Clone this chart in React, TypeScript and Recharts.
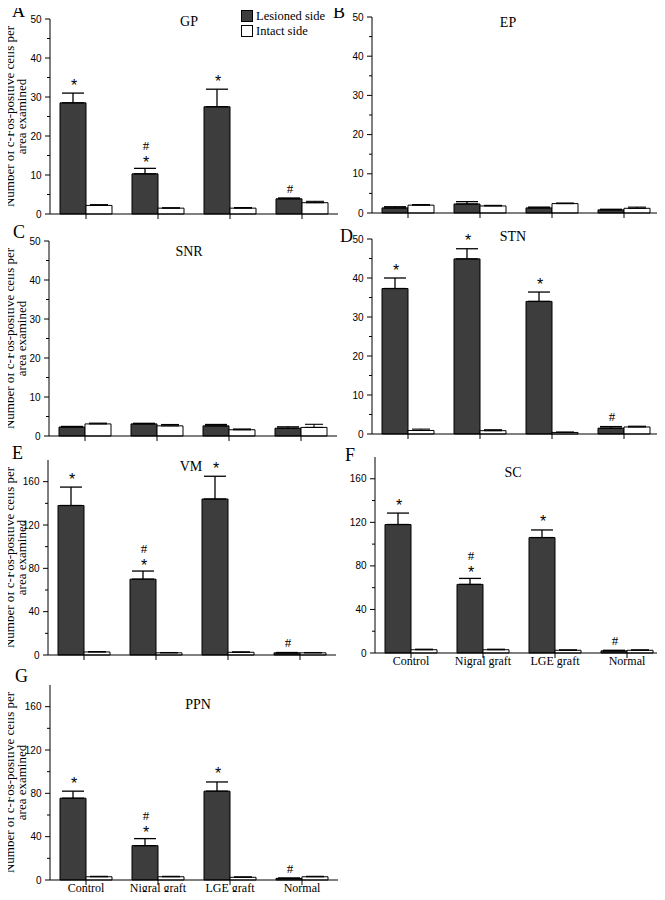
import React from 'react';
import { BarChart, Bar, XAxis, YAxis, ErrorBar, LabelList, Legend } from 'recharts';

const CATEGORIES = ['Control', 'Nigral graft', 'LGE graft', 'Normal'];
const LEGEND_ITEMS = ['Lesioned side', 'Intact side'];
const Y_LABEL_LINES = ['Number of c-Fos-positive cells per', 'area examined'];
const TICKS_50 = [0, 5, 10, 15, 20, 25, 30, 35, 40, 45, 50];
const TICKS_180 = [0, 20, 40, 60, 80, 100, 120, 140, 160];

// GP
const GP_LESIONED = [28.5, 10.3, 27.5, 3.9];
const GP_LESIONED_SEM = [2.5, 1.4, 4.5, 0.2];
const GP_INTACT = [2.2, 1.5, 1.5, 2.9];
const GP_INTACT_SEM = [0.2, 0.1, 0.15, 0.35];
const GP_MARKS = ['*', '#*', '*', '#'];
// EP
const EP_LESIONED = [1.3, 2.3, 1.3, 0.8];
const EP_LESIONED_SEM = [0.3, 0.6, 0.2, 0.15];
const EP_INTACT = [2.0, 1.8, 2.4, 1.2];
const EP_INTACT_SEM = [0.15, 0.15, 0.15, 0.3];
const EP_MARKS = ['', '', '', ''];
// SNR
const SNR_LESIONED = [2.3, 3.1, 2.6, 2.0];
const SNR_LESIONED_SEM = [0.15, 0.15, 0.35, 0.35];
const SNR_INTACT = [3.1, 2.6, 1.6, 2.2];
const SNR_INTACT_SEM = [0.2, 0.35, 0.2, 0.8];
const SNR_MARKS = ['', '', '', ''];
// STN
const STN_LESIONED = [37.3, 44.9, 34.0, 1.5];
const STN_LESIONED_SEM = [2.7, 2.6, 2.4, 0.4];
const STN_INTACT = [0.9, 0.85, 0.4, 1.8];
const STN_INTACT_SEM = [0.35, 0.25, 0.1, 0.2];
const STN_MARKS = ['*', '*', '*', '#'];
// VM
const VM_LESIONED = [138, 70, 144, 2];
const VM_LESIONED_SEM = [17, 7.5, 21, 0.3];
const VM_INTACT = [2.8, 2, 2.5, 2];
const VM_INTACT_SEM = [0.4, 0.3, 0.4, 0.3];
const VM_MARKS = ['*', '#*', '*', '#'];
// SC
const SC_LESIONED = [118, 63, 106, 2];
const SC_LESIONED_SEM = [10.5, 5.5, 7, 0.5];
const SC_INTACT = [3, 3, 2.5, 2.5];
const SC_INTACT_SEM = [0.5, 0.5, 0.4, 0.4];
const SC_MARKS = ['*', '#*', '*', '#'];
// PPN
const PPN_LESIONED = [75.5, 31.7, 82, 1.5];
const PPN_LESIONED_SEM = [6.5, 6.5, 8.5, 0.3];
const PPN_INTACT = [3, 3, 2.5, 3];
const PPN_INTACT_SEM = [0.4, 0.4, 0.4, 0.4];
const PPN_MARKS = ['*', '#*', '*', '#'];

const SERIF = '"Liberation Serif", "Times New Roman", serif';
const SANS = '"Liberation Sans", Arial, Helvetica, sans-serif';
const DARK = '#3d3d3d';

const PANELS = [
  { letter: 'A', title: 'GP', les: GP_LESIONED, lesSem: GP_LESIONED_SEM, int: GP_INTACT, intSem: GP_INTACT_SEM, marks: GP_MARKS,
    axisX: 50, plotTop: 19, zero: 214, max: 50, ticks: TICKS_50, major: 10, yLabel: true, xLabels: false, legend: true,
    titleX: 189, titleY: 22, letterX: 12, letterY: 11 },
  { letter: 'B', title: 'EP', les: EP_LESIONED, lesSem: EP_LESIONED_SEM, int: EP_INTACT, intSem: EP_INTACT_SEM, marks: EP_MARKS,
    axisX: 372, plotTop: 17, zero: 213, max: 50, ticks: TICKS_50, major: 10, yLabel: false, xLabels: false, legend: false,
    titleX: 508, titleY: 23, letterX: 333, letterY: 12 },
  { letter: 'C', title: 'SNR', les: SNR_LESIONED, lesSem: SNR_LESIONED_SEM, int: SNR_INTACT, intSem: SNR_INTACT_SEM, marks: SNR_MARKS,
    axisX: 49, plotTop: 241, zero: 436, max: 50, ticks: TICKS_50, major: 10, yLabel: true, xLabels: false, legend: false,
    titleX: 189, titleY: 252, letterX: 13, letterY: 232 },
  { letter: 'D', title: 'STN', les: STN_LESIONED, lesSem: STN_LESIONED_SEM, int: STN_INTACT, intSem: STN_INTACT_SEM, marks: STN_MARKS,
    axisX: 372, plotTop: 239, zero: 434, max: 50, ticks: TICKS_50, major: 10, yLabel: false, xLabels: false, legend: false,
    titleX: 513, titleY: 237, letterX: 340, letterY: 236 },
  { letter: 'E', title: 'VM', les: VM_LESIONED, lesSem: VM_LESIONED_SEM, int: VM_INTACT, intSem: VM_INTACT_SEM, marks: VM_MARKS,
    axisX: 48, plotTop: 460, zero: 655, max: 180, ticks: TICKS_180, major: 40, yLabel: true, xLabels: false, legend: false,
    titleX: 191, titleY: 467, letterX: 12, letterY: 453 },
  { letter: 'F', title: 'SC', les: SC_LESIONED, lesSem: SC_LESIONED_SEM, int: SC_INTACT, intSem: SC_INTACT_SEM, marks: SC_MARKS,
    axisX: 375, plotTop: 457, zero: 653, max: 180, ticks: TICKS_180, major: 40, yLabel: false, xLabels: true, legend: false,
    titleX: 513, titleY: 473, letterX: 345, letterY: 455 },
  { letter: 'G', title: 'PPN', les: PPN_LESIONED, lesSem: PPN_LESIONED_SEM, int: PPN_INTACT, intSem: PPN_INTACT_SEM, marks: PPN_MARKS,
    axisX: 50, plotTop: 685, zero: 880, max: 180, ticks: TICKS_180, major: 40, yLabel: true, xLabels: true, legend: false,
    titleX: 198, titleY: 705, letterX: 15, letterY: 676 },
];

const YW = 50;
const PLOT_W = 288;
const MT = 15;

function LegendBox() {
  return (
    <div style={{ fontFamily: SERIF, fontSize: 12.5, color: '#000' }}>
      {LEGEND_ITEMS.map((name, i) => (
        <div key={name} style={{ display: 'flex', alignItems: 'center', height: 15, lineHeight: '15px', whiteSpace: 'nowrap' }}>
          <span style={{ display: 'inline-block', width: 10, height: 10, border: '1px solid #000', background: i === 0 ? DARK : '#fff', marginRight: 3, boxSizing: 'content-box' }} />
          <span>{name}</span>
        </div>
      ))}
    </div>
  );
}

function Panel({ p }: { p: any }) {
  const data = CATEGORIES.map((c, i) => ({
    cat: c,
    les: p.les[i],
    lesErr: [0, p.lesSem[i]],
    int: p.int[i],
    intErr: [0, p.intSem[i]],
  }));
  const plotH = p.zero - p.plotTop;
  const xh = p.xLabels ? 20 : 8;
  const W = YW + PLOT_W + 2;
  const H = MT + plotH + xh + 2;
  const left = p.axisX - YW;
  const top = p.plotTop - MT;
  const labelX1 = 14 - left;
  const labelX2 = 26 - left;

  const yTick = (tp: any) => {
    const { x, y, payload } = tp;
    const isMajor = payload.value % p.major === 0;
    return (
      <g>
        <line x1={x - (isMajor ? 5 : 3)} x2={x} y1={y} y2={y} stroke="#000" strokeWidth={1} />
        {isMajor && (
          <text x={x - 8.5} y={y} dy={3.5} textAnchor="end" fontFamily={SANS} fontSize={10} fill="#000">
            {payload.value}
          </text>
        )}
      </g>
    );
  };

  const xTick = (tp: any) => {
    const { x, y, payload } = tp;
    return (
      <g>
        <line x1={x} x2={x} y1={y} y2={y + 5} stroke="#000" strokeWidth={1} />
        {p.xLabels && (
          <text x={x} y={y + 12} textAnchor="middle" fontFamily={SERIF} fontSize={12} fill="#000">
            {payload.value}
          </text>
        )}
      </g>
    );
  };

  const yLabel = (lp: any) => {
    const vb = lp.viewBox || {};
    const cy = (vb.y ?? MT) + (vb.height ?? plotH) / 2;
    return (
      <g>
        <text transform={`translate(${labelX1},${cy}) rotate(-90)`} textAnchor="middle" fontFamily={SERIF} fontSize={13} fill="#000">
          {Y_LABEL_LINES[0]}
        </text>
        <text transform={`translate(${labelX2},${cy}) rotate(-90)`} textAnchor="middle" fontFamily={SERIF} fontSize={13} fill="#000">
          {Y_LABEL_LINES[1]}
        </text>
      </g>
    );
  };

  const markContent = (lp: any) => {
    const vb = lp.viewBox && lp.viewBox.width !== undefined ? lp.viewBox : lp;
    const { x, y, width, height } = vb;
    const idx = lp.index;
    if (idx === undefined || idx === null) return null;
    const m = p.marks[idx];
    if (!m) return null;
    const v = p.les[idx];
    const e = p.lesSem[idx];
    const hgt = Math.abs(height);
    const barTop = Math.min(y, y + height);
    const errTop = barTop - (v ? (e * hgt) / v : 0);
    const cx = x + width / 2 + 1;
    const star = (k: string, dy: number) => (
      <text key={k} x={cx} y={errTop - dy} textAnchor="middle" fontFamily={SANS} fontSize={16} fill="#000">*</text>
    );
    const hash = (k: string, dy: number) => (
      <text key={k} x={cx} y={errTop - dy} textAnchor="middle" fontFamily={SERIF} fontSize={13} fill="#000">#</text>
    );
    const items: any[] = [];
    if (m === '*') items.push(star('s', 2.5));
    else if (m === '#') items.push(hash('h', 5.5));
    else {
      items.push(star('s', 0.5));
      items.push(hash('h', 18.5));
    }
    return <g>{items}</g>;
  };

  return (
    <div style={{ position: 'absolute', left, top, width: W, height: H }}>
      <BarChart width={W} height={H} data={data} margin={{ top: MT, right: 2, bottom: 2, left: 0 }} barCategoryGap={10} barGap={0}>
        <XAxis
          dataKey="cat"
          height={xh}
          tickSize={0}
          tickMargin={0}
          tickLine={false}
          axisLine={{ stroke: '#000', strokeWidth: 1 }}
          interval={0}
          tick={xTick}
          padding={{ left: 0, right: 0 }}
        />
        <YAxis
          type="number"
          width={YW}
          domain={[0, p.max]}
          ticks={p.ticks}
          interval={0}
          tickSize={0}
          tickMargin={0}
          tickLine={false}
          axisLine={{ stroke: '#000', strokeWidth: 1 }}
          tick={yTick}
          label={p.yLabel ? yLabel : undefined}
        />
        <Bar dataKey="les" fill={DARK} stroke="#000" strokeWidth={1} isAnimationActive={false}>
          <ErrorBar dataKey="lesErr" direction="y" width={11} stroke="#000" strokeWidth={1.3} isAnimationActive={false} />
          <LabelList dataKey="les" content={markContent} />
        </Bar>
        <Bar dataKey="int" fill="#fff" stroke="#000" strokeWidth={1} isAnimationActive={false}>
          <ErrorBar dataKey="intErr" direction="y" width={9} stroke="#000" strokeWidth={1.1} isAnimationActive={false} />
        </Bar>
        {p.legend && (
          <Legend
            layout="vertical"
            align="center"
            verticalAlign="middle"
            wrapperStyle={{ position: 'absolute', left: 241 - left, top: 4.5, width: 'auto', height: 'auto' }}
            content={() => <LegendBox />}
          />
        )}
      </BarChart>
    </div>
  );
}

export default function App() {
  return (
    <div style={{ position: 'relative', margin: -8, width: 665, height: 900, overflow: 'hidden', background: '#fff' }}>
      {PANELS.map((p) => (
        <Panel key={p.letter} p={p} />
      ))}
      {PANELS.map((p) => (
        <div
          key={'t' + p.letter}
          style={{ position: 'absolute', left: p.titleX - 40, top: p.titleY - 8, width: 80, textAlign: 'center', fontFamily: SERIF, fontSize: 14, lineHeight: '16px', color: '#000' }}
        >
          {p.title}
        </div>
      ))}
      {PANELS.map((p) => (
        <div
          key={'l' + p.letter}
          style={{ position: 'absolute', left: p.letterX, top: p.letterY - 10, fontFamily: SERIF, fontSize: 18, lineHeight: '20px', color: '#000' }}
        >
          {p.letter}
        </div>
      ))}
    </div>
  );
}
